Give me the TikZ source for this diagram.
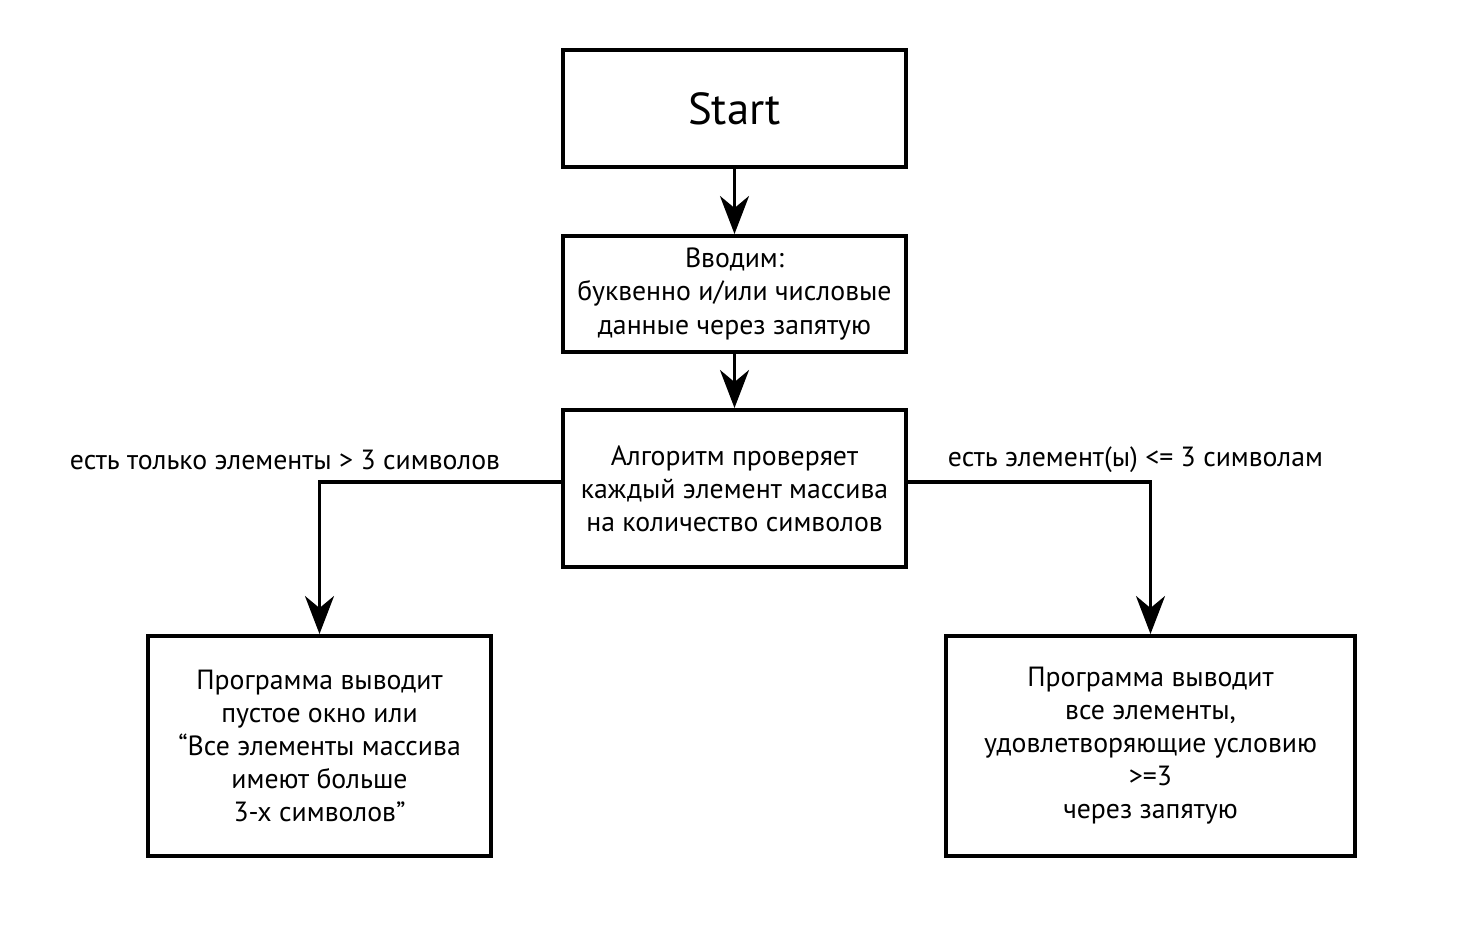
\documentclass[tikz,border=0pt]{standalone}
\usepackage{fontspec}
\setmainfont{PT Sans}
\usetikzlibrary{arrows.meta}

\begin{document}
\begin{tikzpicture}[x=0.02cm,y=-0.02cm,->,>={Stealth[length=0.76cm,width=0.58cm,inset=0.24cm]},
                    line width=0.07cm,
                    block/.style={draw,line width=0.08cm,minimum width=6.86cm,
                                  align=center,inner sep=0pt,
                                  font=\fontsize{15.8}{18.8}\selectfont},
                    branch/.style={font=\fontsize{15.8}{18.8}\selectfont}]
  \useasboundingbox (0,0) rectangle (1475,942);

  \node[block,minimum height=2.34cm,font=\fontsize{25.5}{30}\selectfont]
                                  (start) at (734.5,108.5) {Start};
  \node[block,minimum height=2.32cm] (input) at (734.5,294)
        {Вводим:\\буквенно и/или числовые\\данные через запятую};
  \node[block,minimum height=3.14cm] (check) at (734.5,488.5)
        {Алгоритм проверяет\\каждый элемент массива\\на количество символов};
  \node[block,minimum height=4.4cm]  (none)  at (319.5,746)
        {Программа выводит\\пустое окно или\\“Все элементы массива\\имеют больше\\3-х символов”};
  \node[block,minimum width=8.18cm,minimum height=4.4cm] (found) at (1150.5,746)
        {Программа выводит\\все элементы,\\удовлетворяющие условию\\>=3\\через запятую};

  \node[branch] (nonelbl)  at (285,460)    {есть только элементы > 3 символов};
  \node[branch] (foundlbl) at (1135.5,460) {есть элемент(ы) <= 3 символам};

  \path (start) edge (input)
        (input) edge (check);
  \draw ([yshift=0.13cm]check.west) -| (none.north);
  \draw ([yshift=0.13cm]check.east) -| (found.north);
\end{tikzpicture}
\end{document}
